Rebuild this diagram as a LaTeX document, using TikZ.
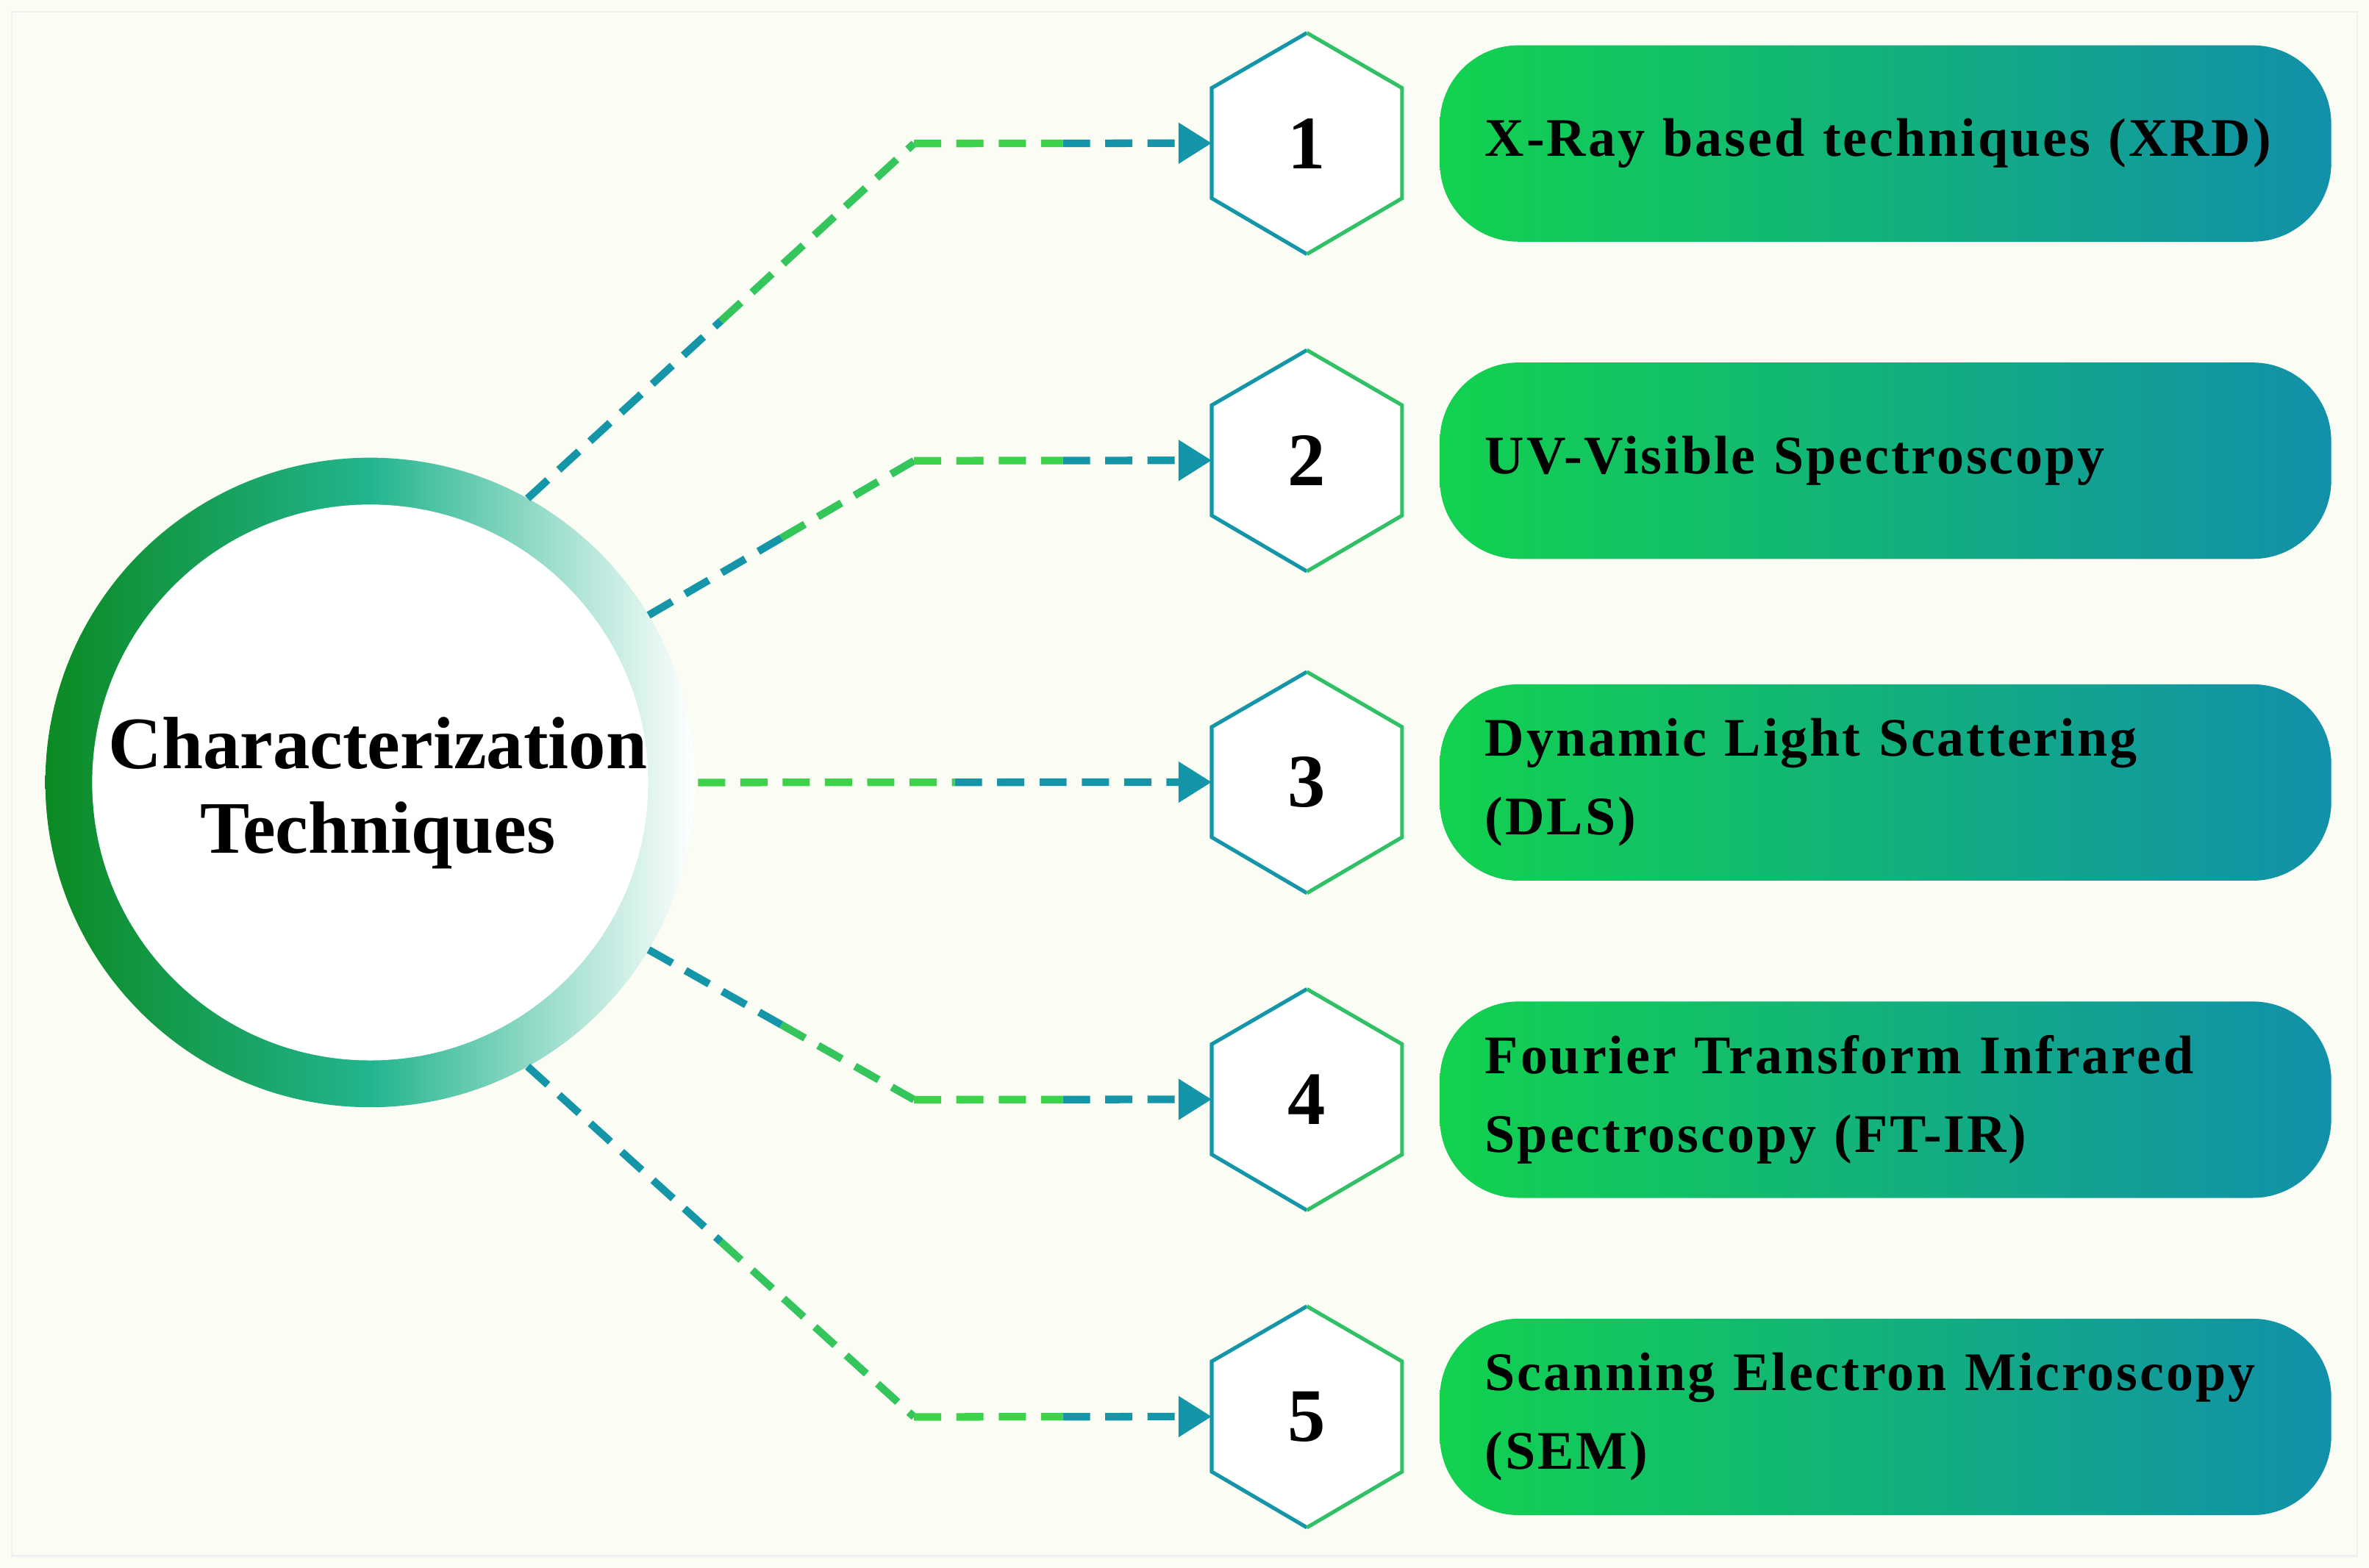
\documentclass[tikz,border=0pt]{standalone}
\usepackage{fontspec}
\setmainfont{Liberation Serif}
\newfontfamily\boxfont[LetterSpace=4]{Liberation Serif}
\usetikzlibrary{shapes.geometric,arrows.meta,calc}
\definecolor{bg}{HTML}{FBFCF4}
\definecolor{teal1}{HTML}{1496A8}
\definecolor{grn1}{HTML}{3CD24A}
\definecolor{boxL}{HTML}{12D24E}
\definecolor{boxR}{HTML}{1290AA}
\definecolor{ringD}{HTML}{0B8A22}
\definecolor{ringM}{HTML}{22B48E}
\tikzset{
 hexa/.style={regular polygon,regular polygon sides=6,shape border rotate=30,minimum size=146pt,inner sep=0pt,draw=none,fill=white,font=\fontsize{50}{50}\bfseries},
 techbox/.style={rounded corners=52pt,minimum width=590pt,minimum height=130pt,left color=boxL,right color=boxR,draw=none,text width=530pt,align=left,inner sep=0pt,font=\boxfont\fontsize{36}{52}\selectfont\bfseries},
 dl/.style={dashed,dash pattern=on 18pt off 10pt,line width=5pt},
 arr/.style={-{Triangle[length=22pt,width=26pt]}}
}
\begin{document}
\begin{tikzpicture}[x=1pt,y=-1pt]
\useasboundingbox (0,0) rectangle (1568,1038);
\fill[bg] (0,0) rectangle (1568,1038);
\draw[black!6,line width=1pt] (8,8) rectangle (1560,1030);
% ring
\shade[left color=ringD,right color=white,middle color=ringM] (245,518) circle (215);
\node[circle,fill=white,minimum size=368pt,inner sep=0pt,align=center,font=\fontsize{49}{56}\selectfont\bfseries] (circ) at (245,518) {};
\node[align=center,font=\fontsize{49}{56}\selectfont\bfseries] (ctext) at (250,525) {Characterization\\Techniques};
\coordinate (c1) at ($(245,518)+(-61:215)$);
\coordinate (c2) at ($(245,518)+(-31:215)$);
\coordinate (c3) at (462,518);
\coordinate (c4) at ($(245,518)+(31:215)$);
\coordinate (c5) at ($(245,518)+(61:215)$);
\foreach \i/\y/\t in {1/95/{X-Ray based techniques (XRD)},2/305/{UV-Visible Spectroscopy},3/518/{Dynamic Light Scattering\\(DLS)},4/728/{Fourier Transform Infrared\\Spectroscopy (FT-IR)},5/938/{Scanning Electron Microscopy\\(SEM)}}{
 \node[hexa] (h\i) at (865,\y) {\i};
 \draw[teal1,line width=2.5pt] (h\i.north) -- ++(-63,36.5) -- ++(0,73) -- (h\i.south);
 \draw[grn1!70!teal1,line width=2.5pt] (h\i.north) -- ++(63,36.5) -- ++(0,73) -- (h\i.south);
 \node[techbox] (b\i) at (1248,\y) {\t};
 \coordinate (e\i) at (605,\y);
 \coordinate (t\i) at ($(h\i.north)+(-63,73)$);
}
\foreach \i in {1,2,4,5}{
 \draw[dl,teal1] (c\i) -- ($(c\i)!0.5!(e\i)$);
 \draw[dl,grn1!80!teal1] ($(c\i)!0.5!(e\i)$) -- (e\i);
 \draw[dl,grn1] (e\i) -- ($(e\i)!0.5!(t\i)$);
 \draw[dl,teal1,arr] ($(e\i)!0.5!(t\i)$) -- (t\i);
}
\draw[dl,grn1] (c3) -- ($(c3)!0.5!(t3)$);
\draw[dl,teal1,arr] ($(c3)!0.5!(t3)$) -- (t3);
\end{tikzpicture}
\end{document}
